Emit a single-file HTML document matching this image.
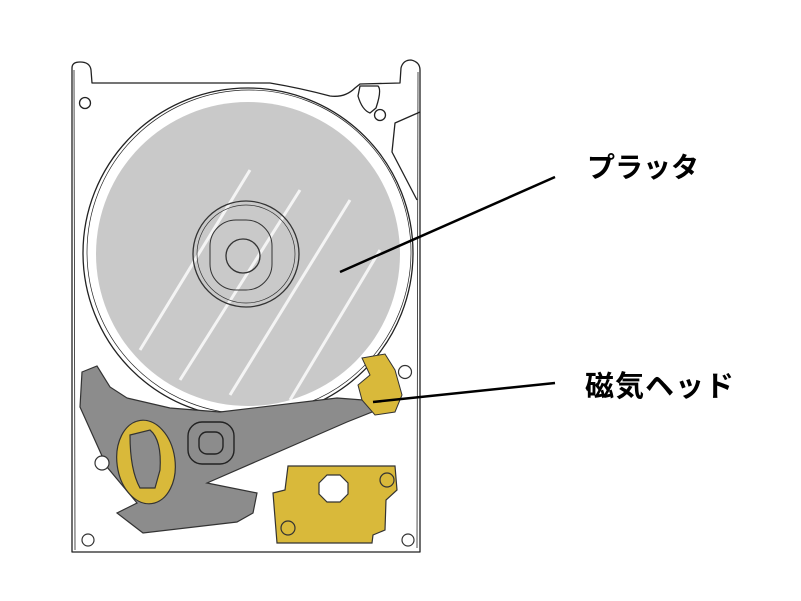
<!DOCTYPE html>
<html><head><meta charset="utf-8"><style>
html,body{margin:0;padding:0;background:#fff;}
svg{display:block}
</style></head><body>
<svg width="801" height="601" viewBox="0 0 801 601" xmlns="http://www.w3.org/2000/svg">
<g fill="none" stroke="#222" stroke-width="1.3" stroke-linejoin="round">
<path d="M72,552 L72,68 Q72,62 80,62 Q90,62 91,70 L92,83 L270,83 Q300,88 330,96 Q345,98 355,88 L360,84 L400,83 L401,68 Q403,60 411,60 Q420,62 420,70 L420,552 Z"/>
<path d="M75,550 L74,70 M417,548 L418,72" stroke-width="0.8"/>
<path d="M360,86 L378,86 Q382,90 376,108 L370,113 Q362,110 358,96 Z"/>
<path d="M420,112 L395,123 L392,152 L417,200"/>
<circle cx="85" cy="103" r="5.5"/>
<circle cx="380" cy="115" r="5.5"/>
</g>
<circle cx="248" cy="254" r="152" fill="#c9c9c9"/>
<g fill="none" stroke="#fff" stroke-width="3" opacity="0.8">
<path d="M180,380 L300,190 M230,395 L350,200 M140,350 L250,170 M290,400 L380,250"/>
</g>
<circle cx="248" cy="253" r="165" fill="none" stroke="#222" stroke-width="1.3"/>
<circle cx="249" cy="252" r="162" fill="none" stroke="#222" stroke-width="0.7"/>
<g fill="none" stroke="#333" stroke-width="1.3">
<circle cx="246" cy="254" r="53"/>
<circle cx="246" cy="254" r="49" stroke-width="0.7"/>
<rect x="210" y="220" width="62" height="70" rx="26" stroke-width="1"/>
<circle cx="243" cy="256" r="17"/>
</g>
<path d="M82,372 L97,366 L110,387 L127,398 L170,408 L220,412 L337,398 L363,400 L380,403 L377,410 L347,422 L207,483 L257,493 L253,513 L237,522 L143,533 L117,513 L137,503 L107,467 L80,407 Z" fill="#8c8c8c" stroke="#333" stroke-width="1.2"/>
<rect x="188" y="422" width="46" height="42" rx="14" fill="none" stroke="#222" stroke-width="1.4"/>
<rect x="199" y="432" width="24" height="22" rx="8" fill="none" stroke="#222" stroke-width="1.4"/>
<ellipse cx="146" cy="462" rx="29" ry="42" transform="rotate(-8 146 462)" fill="#d9b93a" stroke="#333" stroke-width="1.2"/>
<path d="M130,435 L150,430 Q162,440 160,470 L155,488 L140,488 Q130,470 130,435 Z" fill="#8c8c8c" stroke="#333" stroke-width="1.2"/>
<path d="M362,358 L385,354 L395,370 L402,395 L395,412 L375,415 L362,400 L358,385 L370,375 Z" fill="#d9b93a" stroke="#333" stroke-width="1"/>
<circle cx="405" cy="372" r="6.5" fill="#fff" stroke="#333" stroke-width="1.2"/>
<path d="M288,466 L395,466 L397,490 L386,500 L385,530 L373,535 L372,543 L277,543 L273,493 L285,490 Z" fill="#d9b93a" stroke="#333" stroke-width="1.2"/>
<path d="M327,475 L340,475 L348,483 L348,494 L340,502 L327,502 L319,494 L319,483 Z" fill="#fff" stroke="#333" stroke-width="1.2"/>
<circle cx="387" cy="480" r="7" fill="none" stroke="#333" stroke-width="1.2"/>
<circle cx="288" cy="528" r="7" fill="none" stroke="#333" stroke-width="1.2"/>
<g fill="#fff" stroke="#333" stroke-width="1.2">
<circle cx="102" cy="463" r="7"/>
<circle cx="88" cy="540" r="6"/>
<circle cx="408" cy="540" r="6"/>
</g>
<line x1="555" y1="177" x2="340" y2="272" stroke="#000" stroke-width="2.5"/>
<line x1="555" y1="383" x2="373" y2="402" stroke="#000" stroke-width="2.5"/>
<text x="587" y="177" font-family="Liberation Sans, Noto Sans CJK JP, sans-serif" font-weight="bold" font-size="28" fill="#000">プラッタ</text>
<text x="585" y="396" font-family="Liberation Sans, Noto Sans CJK JP, sans-serif" font-weight="bold" font-size="29" letter-spacing="1" fill="#000">磁気ヘッド</text>
</svg>
</body></html>
